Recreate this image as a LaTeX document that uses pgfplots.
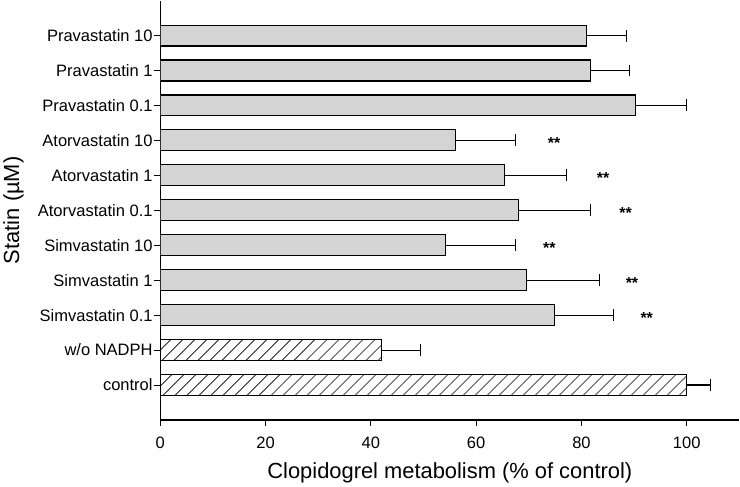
\documentclass[border=0pt]{standalone}
\usepackage{fontspec}
\setmainfont{Liberation Sans}
\usepackage{pgfplots}
\pgfplotsset{compat=1.18}
\usetikzlibrary{patterns.meta}
\definecolor{barfill}{HTML}{D4D4D4}

\begin{document}
\begin{tikzpicture}
\begin{axis}[
  width=580bp, height=420bp, scale only axis,
  xmin=0, xmax=110, ymin=-1, ymax=11,
  axis x line*=bottom, axis y line*=left,
  xtick={0,20,...,100}, ytick={0,...,10},
  yticklabels={control, w/o NADPH, Simvastatin 0.1, Simvastatin 1, Simvastatin 10,
    Atorvastatin 0.1, Atorvastatin 1, Atorvastatin 10,
    Pravastatin 0.1, Pravastatin 1, Pravastatin 10},
  tick align=outside, major tick length=6bp,
  tick style={line width=1bp, black},
  axis line style={line width=1.2bp},
  tick label style={font=\fontsize{16.6}{18}\selectfont},
  yticklabel style={inner xsep=1.5bp},
  xticklabel style={yshift=-8bp},
  label style={font=\fontsize{22}{24}\selectfont},
  xlabel={Clopidogrel metabolism (\% of control)},
  ylabel={Statin (µM)},
  xlabel style={at={([yshift=-53bp]axis description cs:0.5,0)}, anchor=center},
  ylabel style={at={([xshift=-147bp]axis description cs:0,0.5)}, anchor=center},
  /pgf/number format/assume math mode=true,
]
% hatched reference bars
\addplot[xbar, bar shift=0pt, bar width=0.6, draw=black, line width=1.1bp,
  pattern={Lines[angle=45, distance=8.5bp, line width=0.6bp]},
  error bars/.cd, x dir=plus, x explicit,
  error bar style={line width=1.1bp, black},
  error mark options={line width=1.1bp, mark size=6bp, rotate=90, black}]
  coordinates {
    (100,0) +- (4.5,0)
    (42.1,1) +- (7.3,0)
  };
% statin bars
\addplot[xbar, bar shift=0pt, bar width=0.6, draw=black, line width=1.1bp, fill=barfill,
  error bars/.cd, x dir=plus, x explicit,
  error bar style={line width=1.1bp, black},
  error mark options={line width=1.1bp, mark size=6bp, rotate=90, black}]
  coordinates {
    (74.9,2) +- (11.2,0)
    (69.6,3) +- (13.8,0)
    (54.1,4) +- (13.4,0)
    (68.1,5) +- (13.6,0)
    (65.3,6) +- (11.8,0)
    (56.1,7) +- (11.4,0)
    (90.2,8) +- (9.8,0)
    (81.7,9) +- (7.5,0)
    (81.0,10) +- (7.5,0)
  };
% significance marks
\addplot[only marks, mark=none, nodes near coords={**},
  every node near coord/.append style={anchor=center, yshift=-3bp,
    font=\fontsize{16}{18}\selectfont\bfseries}]
  coordinates {
    (92.4,2) (89.6,3) (73.9,4) (88.4,5) (84.1,6) (74.8,7)
  };
\end{axis}
\end{tikzpicture}
\end{document}
